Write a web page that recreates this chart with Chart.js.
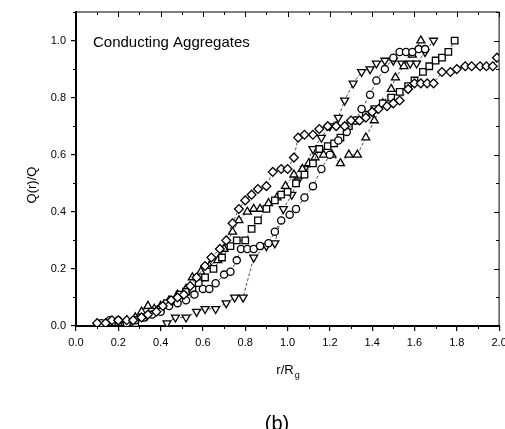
<!DOCTYPE html>
<html>
<head>
<meta charset="utf-8">
<script src="https://cdn.jsdelivr.net/npm/chart.js@4.4.0/dist/chart.umd.min.js"></script>
<style>
  html, body { margin: 0; padding: 0; background: #fff; }
</style>
</head>
<body>
<canvas id="chart" width="505" height="429"></canvas>
<script>
// tick labels
const xTicks = [0.0, 0.2, 0.4, 0.6, 0.8, 1.0, 1.2, 1.4, 1.6, 1.8, 2.0];
const yTicks = [0.0, 0.2, 0.4, 0.6, 0.8, 1.0];

// diamonds (runs out to r/Rg = 2)
const diamondX = [0.10, 0.14, 0.17, 0.20, 0.24, 0.27, 0.31, 0.34, 0.38, 0.41, 0.45, 0.48, 0.51, 0.54, 0.57, 0.61, 0.64, 0.68, 0.71, 0.74, 0.77, 0.80, 0.83, 0.86, 0.90, 0.93, 0.97, 1.00, 1.03, 1.05, 1.08, 1.12, 1.15, 1.19, 1.23, 1.27, 1.30, 1.34, 1.37, 1.40, 1.43, 1.47, 1.50, 1.53, 1.57, 1.60, 1.63, 1.66, 1.69, 1.73, 1.77, 1.80, 1.84, 1.87, 1.91, 1.94, 1.97, 1.99];
const diamondY = [0.01, 0.01, 0.02, 0.02, 0.02, 0.02, 0.03, 0.04, 0.05, 0.07, 0.09, 0.10, 0.11, 0.14, 0.17, 0.21, 0.24, 0.27, 0.30, 0.36, 0.41, 0.44, 0.46, 0.48, 0.49, 0.54, 0.55, 0.55, 0.59, 0.66, 0.67, 0.67, 0.69, 0.70, 0.70, 0.70, 0.72, 0.72, 0.73, 0.75, 0.76, 0.77, 0.78, 0.79, 0.83, 0.85, 0.85, 0.85, 0.85, 0.89, 0.89, 0.90, 0.91, 0.91, 0.91, 0.91, 0.91, 0.94];

// circles
const circleX = [0.12, 0.16, 0.20, 0.24, 0.28, 0.32, 0.36, 0.40, 0.44, 0.48, 0.52, 0.56, 0.60, 0.63, 0.66, 0.70, 0.73, 0.76, 0.78, 0.81, 0.84, 0.87, 0.91, 0.94, 0.97, 1.01, 1.04, 1.08, 1.12, 1.16, 1.20, 1.24, 1.28, 1.32, 1.35, 1.39, 1.42, 1.46, 1.50, 1.53, 1.56, 1.59, 1.62, 1.65];
const circleY = [0.01, 0.02, 0.02, 0.01, 0.02, 0.03, 0.04, 0.05, 0.07, 0.08, 0.09, 0.11, 0.13, 0.13, 0.15, 0.18, 0.19, 0.23, 0.27, 0.27, 0.27, 0.28, 0.29, 0.33, 0.37, 0.39, 0.41, 0.45, 0.49, 0.55, 0.60, 0.65, 0.68, 0.72, 0.76, 0.81, 0.86, 0.90, 0.94, 0.96, 0.96, 0.96, 0.97, 0.97];

// squares
const squareX = [0.28, 0.32, 0.36, 0.40, 0.43, 0.46, 0.49, 0.52, 0.55, 0.58, 0.61, 0.65, 0.69, 0.73, 0.76, 0.80, 0.83, 0.86, 0.90, 0.94, 0.97, 1.00, 1.04, 1.08, 1.12, 1.15, 1.19, 1.22, 1.25, 1.29, 1.33, 1.37, 1.41, 1.45, 1.49, 1.53, 1.57, 1.60, 1.64, 1.67, 1.70, 1.73, 1.76, 1.79];
const squareY = [0.01, 0.03, 0.05, 0.06, 0.08, 0.09, 0.11, 0.12, 0.13, 0.15, 0.17, 0.20, 0.24, 0.28, 0.30, 0.30, 0.34, 0.37, 0.41, 0.44, 0.46, 0.47, 0.50, 0.53, 0.57, 0.62, 0.63, 0.64, 0.66, 0.70, 0.72, 0.74, 0.76, 0.78, 0.80, 0.82, 0.84, 0.86, 0.89, 0.91, 0.93, 0.94, 0.96, 1.00];

// up triangles
const triUpX = [0.20, 0.24, 0.28, 0.31, 0.34, 0.37, 0.40, 0.44, 0.48, 0.52, 0.55, 0.59, 0.63, 0.67, 0.70, 0.74, 0.77, 0.81, 0.84, 0.87, 0.91, 0.95, 0.99, 1.03, 1.07, 1.10, 1.13, 1.17, 1.21, 1.25, 1.29, 1.33, 1.37, 1.41, 1.45, 1.49, 1.51, 1.55, 1.59, 1.63];
const triUpY = [0.01, 0.02, 0.03, 0.05, 0.07, 0.06, 0.07, 0.09, 0.11, 0.13, 0.17, 0.19, 0.21, 0.23, 0.27, 0.33, 0.37, 0.40, 0.41, 0.41, 0.43, 0.45, 0.49, 0.53, 0.55, 0.57, 0.59, 0.60, 0.60, 0.57, 0.60, 0.60, 0.66, 0.72, 0.78, 0.83, 0.87, 0.91, 0.95, 1.00];

// down triangles
const triDownX = [0.43, 0.47, 0.52, 0.57, 0.61, 0.66, 0.71, 0.75, 0.79, 0.84, 0.90, 0.94, 0.98, 1.02, 1.05, 1.08, 1.12, 1.16, 1.20, 1.24, 1.27, 1.31, 1.35, 1.39, 1.42, 1.46, 1.50, 1.54, 1.58, 1.61, 1.65, 1.69];
const triDownY = [0.01, 0.03, 0.03, 0.05, 0.06, 0.06, 0.08, 0.10, 0.10, 0.24, 0.28, 0.29, 0.41, 0.46, 0.51, 0.55, 0.62, 0.66, 0.70, 0.73, 0.79, 0.85, 0.89, 0.90, 0.92, 0.93, 0.93, 0.92, 0.92, 0.92, 0.96, 1.00];

const FONT = "'Liberation Sans', Arial, sans-serif";

function toPoints(xs, ys) {
  return xs.map((x, i) => ({ x: x, y: ys[i] }));
}

function series(xs, ys, style, radius, rotation) {
  return {
    data: toPoints(xs, ys),
    showLine: true,
    borderColor: "#222",
    borderWidth: 0.8,
    borderDash: [3, 2],
    pointStyle: style,
    pointRadius: radius,
    pointRotation: rotation || 0,
    pointBorderWidth: 1.3,
    pointBorderColor: "#000",
    pointBackgroundColor: "#fff",
  };
}

// frame, minor ticks and the free text
const framePlugin = {
  id: "frame",
  afterDraw(chart) {
    const ctx = chart.ctx;
    const a = chart.chartArea;
    const xs = chart.scales.x;
    const ys = chart.scales.y;
    ctx.save();
    ctx.strokeStyle = "#000";
    ctx.lineWidth = 1;
    ctx.beginPath();
    ctx.moveTo(a.left, a.top);
    ctx.lineTo(a.right, a.top);
    ctx.lineTo(a.right, a.bottom);
    ctx.stroke();

    ctx.beginPath();
    for (let v = 0.1; v < 2.0; v += 0.2) {
      const px = Math.round(xs.getPixelForValue(v)) + 0.5;
      ctx.moveTo(px, a.bottom);
      ctx.lineTo(px, a.bottom + 3);
      ctx.moveTo(px, a.top);
      ctx.lineTo(px, a.top + 3);
    }
    xTicks.forEach((v) => {
      const px = Math.round(xs.getPixelForValue(v)) + 0.5;
      ctx.moveTo(px, a.top);
      ctx.lineTo(px, a.top + 5);
    });
    for (let v = 0.1; v < 1.1; v += 0.2) {
      const py = Math.round(ys.getPixelForValue(v)) + 0.5;
      ctx.moveTo(a.left, py);
      ctx.lineTo(a.left - 3, py);
      ctx.moveTo(a.right, py);
      ctx.lineTo(a.right - 3, py);
    }
    yTicks.forEach((v) => {
      const py = Math.round(ys.getPixelForValue(v)) + 0.5;
      ctx.moveTo(a.right, py);
      ctx.lineTo(a.right - 5, py);
    });
    ctx.stroke();

    ctx.fillStyle = "#000";
    // label inside the plot
    ctx.font = "15px " + FONT;
    ctx.textAlign = "left";
    ctx.textBaseline = "middle";
    ctx.fillText("Conducting Aggregates", 93, 43);

    // y title
    ctx.save();
    ctx.translate(32, 185);
    ctx.rotate(-Math.PI / 2);
    ctx.font = "13px " + FONT;
    ctx.textAlign = "center";
    ctx.fillText("Q(r)/Q", 0, 0);
    ctx.restore();

    // x title r/Rg
    ctx.font = "13px " + FONT;
    ctx.textAlign = "left";
    ctx.textBaseline = "alphabetic";
    const main = "r/R";
    const w = ctx.measureText(main).width;
    const x0 = 285 - w / 2;
    ctx.fillText(main, x0, 374);
    ctx.font = "9px " + FONT;
    ctx.fillText("g", x0 + w + 1, 378);

    // panel letter
    ctx.font = "20px " + FONT;
    ctx.textAlign = "center";
    ctx.textBaseline = "top";
    ctx.fillText("(b)", 277, 414);
    ctx.restore();
  },
};

new Chart(document.getElementById("chart").getContext("2d"), {
  type: "scatter",
  data: {
    datasets: [
      series(diamondX, diamondY, "rectRot", 4.4),
      series(circleX, circleY, "circle", 3.6),
      series(squareX, squareY, "rect", 4.6),
      series(triUpX, triUpY, "triangle", 4.6),
      series(triDownX, triDownY, "triangle", 4.6, 180),
    ],
  },
  options: {
    responsive: false,
    animation: false,
    layout: { padding: { left: 0, right: 3, top: 12, bottom: 43 } },
    plugins: {
      legend: { display: false },
      tooltip: { enabled: false },
    },
    scales: {
      x: {
        type: "linear",
        min: 0,
        max: 2,
        afterBuildTicks: (scale) => {
          scale.ticks = xTicks.map((v) => ({ value: v }));
        },
        afterFit: (scale) => {
          scale.height = 60;
          scale.paddingLeft = 0;
          scale.paddingRight = 0;
        },
        ticks: {
          color: "#000",
          padding: 5,
          maxRotation: 0,
          font: { family: FONT, size: 11 },
          callback: (v) => v.toFixed(1),
        },
        grid: {
          drawOnChartArea: false,
          drawTicks: true,
          tickLength: 5,
          color: "#000",
          lineWidth: 1.2,
        },
        border: { display: true, color: "#000", width: 2 },
      },
      y: {
        type: "linear",
        min: 0,
        max: 1.1,
        afterBuildTicks: (scale) => {
          scale.ticks = yTicks.map((v) => ({ value: v }));
        },
        afterFit: (scale) => {
          scale.width = 76;
          scale.paddingTop = 0;
          scale.paddingBottom = 0;
        },
        ticks: {
          color: "#000",
          padding: 5,
          font: { family: FONT, size: 11 },
          callback: (v) => v.toFixed(1),
        },
        grid: {
          drawOnChartArea: false,
          drawTicks: true,
          tickLength: 5,
          color: "#000",
          lineWidth: 1.2,
        },
        border: { display: true, color: "#000", width: 2 },
      },
    },
  },
  plugins: [framePlugin],
});
</script>
</body>
</html>
